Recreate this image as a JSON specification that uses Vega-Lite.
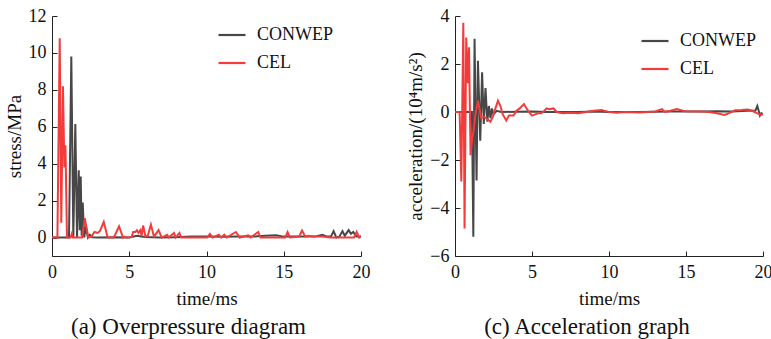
{
  "$schema": "https://vega.github.io/schema/vega-lite/v6.json",
  "background": "white",
  "padding": {"left": 5, "top": 7, "right": 0, "bottom": 3},
  "spacing": 36,
  "config": {
    "view": {"stroke": null}
  },
  "resolve": {"scale": {"color": "independent", "x": "independent", "y": "independent"}, "legend": {"color": "independent"}},
  "datasets": {
    "stress": [
      {"s": "CONWEP", "t": 0, "v": 0}, {"s": "CONWEP", "t": 1.1, "v": 0}, {"s": "CONWEP", "t": 1.25, "v": 9.8}, {"s": "CONWEP", "t": 1.38, "v": 0}, {"s": "CONWEP", "t": 1.51, "v": 6.15}, {"s": "CONWEP", "t": 1.62, "v": 0}, {"s": "CONWEP", "t": 1.73, "v": 3.65}, {"s": "CONWEP", "t": 1.8, "v": 0.4}, {"s": "CONWEP", "t": 1.86, "v": 3.3}, {"s": "CONWEP", "t": 1.92, "v": 0.1}, {"s": "CONWEP", "t": 1.99, "v": 1.9}, {"s": "CONWEP", "t": 2.08, "v": 0}, {"s": "CONWEP", "t": 2.2, "v": 0.6}, {"s": "CONWEP", "t": 2.32, "v": 0}, {"s": "CONWEP", "t": 2.45, "v": 0.15}, {"s": "CONWEP", "t": 2.6, "v": 0.02}, {"s": "CONWEP", "t": 3.0, "v": 0}, {"s": "CONWEP", "t": 4.0, "v": 0.02}, {"s": "CONWEP", "t": 5.0, "v": 0}, {"s": "CONWEP", "t": 5.5, "v": 0.1}, {"s": "CONWEP", "t": 6.0, "v": 0.03}, {"s": "CONWEP", "t": 7.0, "v": 0}, {"s": "CONWEP", "t": 8.0, "v": 0.02}, {"s": "CONWEP", "t": 9.0, "v": 0.05}, {"s": "CONWEP", "t": 10.0, "v": 0.05}, {"s": "CONWEP", "t": 11.0, "v": 0.04}, {"s": "CONWEP", "t": 12.0, "v": 0.05}, {"s": "CONWEP", "t": 13.0, "v": 0.05}, {"s": "CONWEP", "t": 13.8, "v": 0.1}, {"s": "CONWEP", "t": 14.5, "v": 0.12}, {"s": "CONWEP", "t": 15.0, "v": 0.05}, {"s": "CONWEP", "t": 16.0, "v": 0.05}, {"s": "CONWEP", "t": 17.0, "v": 0.05}, {"s": "CONWEP", "t": 17.5, "v": 0.15}, {"s": "CONWEP", "t": 17.8, "v": 0.05}, {"s": "CONWEP", "t": 18.05, "v": 0.05}, {"s": "CONWEP", "t": 18.23, "v": 0.35}, {"s": "CONWEP", "t": 18.4, "v": 0}, {"s": "CONWEP", "t": 18.6, "v": 0.05}, {"s": "CONWEP", "t": 18.8, "v": 0.35}, {"s": "CONWEP", "t": 18.95, "v": 0.1}, {"s": "CONWEP", "t": 19.2, "v": 0.4}, {"s": "CONWEP", "t": 19.35, "v": 0.2}, {"s": "CONWEP", "t": 19.5, "v": 0.3}, {"s": "CONWEP", "t": 19.7, "v": 0.05}, {"s": "CONWEP", "t": 20, "v": 0.05},
      {"s": "CEL", "t": 0, "v": 0}, {"s": "CEL", "t": 0.35, "v": 0}, {"s": "CEL", "t": 0.5, "v": 10.8}, {"s": "CEL", "t": 0.6, "v": 0.8}, {"s": "CEL", "t": 0.71, "v": 8.2}, {"s": "CEL", "t": 0.8, "v": 3.8}, {"s": "CEL", "t": 0.87, "v": 5.0}, {"s": "CEL", "t": 0.97, "v": 0}, {"s": "CEL", "t": 1.2, "v": 0}, {"s": "CEL", "t": 1.28, "v": 0.2}, {"s": "CEL", "t": 1.35, "v": 0}, {"s": "CEL", "t": 1.95, "v": 0}, {"s": "CEL", "t": 2.12, "v": 1.05}, {"s": "CEL", "t": 2.35, "v": 0}, {"s": "CEL", "t": 2.55, "v": 0.05}, {"s": "CEL", "t": 2.75, "v": 0.3}, {"s": "CEL", "t": 2.95, "v": 0.25}, {"s": "CEL", "t": 3.1, "v": 0.35}, {"s": "CEL", "t": 3.35, "v": 0.85}, {"s": "CEL", "t": 3.6, "v": 0}, {"s": "CEL", "t": 4.0, "v": 0}, {"s": "CEL", "t": 4.34, "v": 0.6}, {"s": "CEL", "t": 4.6, "v": 0}, {"s": "CEL", "t": 4.7, "v": 0.05}, {"s": "CEL", "t": 4.8, "v": 0}, {"s": "CEL", "t": 5.15, "v": 0.02}, {"s": "CEL", "t": 5.25, "v": 0.3}, {"s": "CEL", "t": 5.4, "v": 0.3}, {"s": "CEL", "t": 5.5, "v": 0.4}, {"s": "CEL", "t": 5.6, "v": 0.25}, {"s": "CEL", "t": 5.72, "v": 0.4}, {"s": "CEL", "t": 5.8, "v": 0.1}, {"s": "CEL", "t": 5.9, "v": 0.65}, {"s": "CEL", "t": 6.05, "v": 0.05}, {"s": "CEL", "t": 6.2, "v": 0.1}, {"s": "CEL", "t": 6.4, "v": 0.7}, {"s": "CEL", "t": 6.6, "v": 0.05}, {"s": "CEL", "t": 6.9, "v": 0.4}, {"s": "CEL", "t": 7.1, "v": 0}, {"s": "CEL", "t": 7.45, "v": 0.15}, {"s": "CEL", "t": 7.55, "v": 0}, {"s": "CEL", "t": 7.9, "v": 0.25}, {"s": "CEL", "t": 8.0, "v": 0}, {"s": "CEL", "t": 8.25, "v": 0.25}, {"s": "CEL", "t": 8.35, "v": 0}, {"s": "CEL", "t": 10.05, "v": 0}, {"s": "CEL", "t": 10.22, "v": 0.2}, {"s": "CEL", "t": 10.4, "v": 0}, {"s": "CEL", "t": 10.8, "v": 0.15}, {"s": "CEL", "t": 10.95, "v": 0}, {"s": "CEL", "t": 11.15, "v": 0.15}, {"s": "CEL", "t": 11.3, "v": 0}, {"s": "CEL", "t": 11.9, "v": 0.3}, {"s": "CEL", "t": 12.15, "v": 0}, {"s": "CEL", "t": 12.7, "v": 0.12}, {"s": "CEL", "t": 12.85, "v": 0}, {"s": "CEL", "t": 13.35, "v": 0.3}, {"s": "CEL", "t": 13.5, "v": 0}, {"s": "CEL", "t": 15.1, "v": 0}, {"s": "CEL", "t": 15.25, "v": 0.3}, {"s": "CEL", "t": 15.4, "v": 0}, {"s": "CEL", "t": 16.0, "v": 0.05}, {"s": "CEL", "t": 16.18, "v": 0.38}, {"s": "CEL", "t": 16.4, "v": 0.05}, {"s": "CEL", "t": 16.6, "v": 0.1}, {"s": "CEL", "t": 17.0, "v": 0.05}, {"s": "CEL", "t": 17.5, "v": 0.05}, {"s": "CEL", "t": 18.0, "v": 0}, {"s": "CEL", "t": 19.55, "v": 0}, {"s": "CEL", "t": 19.72, "v": 0.3}, {"s": "CEL", "t": 19.88, "v": 0}, {"s": "CEL", "t": 20, "v": 0.05}
    ],
    "accel": [
      {"s": "CONWEP", "t": 0, "v": 0}, {"s": "CONWEP", "t": 1.1, "v": 0}, {"s": "CONWEP", "t": 1.19, "v": -5.2}, {"s": "CONWEP", "t": 1.27, "v": 3.05}, {"s": "CONWEP", "t": 1.4, "v": -2.85}, {"s": "CONWEP", "t": 1.49, "v": 2.13}, {"s": "CONWEP", "t": 1.64, "v": -1.2}, {"s": "CONWEP", "t": 1.76, "v": 1.65}, {"s": "CONWEP", "t": 1.87, "v": -0.5}, {"s": "CONWEP", "t": 1.98, "v": 1.0}, {"s": "CONWEP", "t": 2.1, "v": -0.4}, {"s": "CONWEP", "t": 2.2, "v": 0.25}, {"s": "CONWEP", "t": 2.3, "v": -0.25}, {"s": "CONWEP", "t": 2.4, "v": 0.15}, {"s": "CONWEP", "t": 2.5, "v": -0.1}, {"s": "CONWEP", "t": 2.7, "v": 0.05}, {"s": "CONWEP", "t": 3.0, "v": 0}, {"s": "CONWEP", "t": 4, "v": 0.01}, {"s": "CONWEP", "t": 5, "v": 0.02}, {"s": "CONWEP", "t": 6, "v": 0}, {"s": "CONWEP", "t": 7, "v": 0}, {"s": "CONWEP", "t": 8, "v": 0}, {"s": "CONWEP", "t": 9, "v": 0.02}, {"s": "CONWEP", "t": 10, "v": 0}, {"s": "CONWEP", "t": 12, "v": 0}, {"s": "CONWEP", "t": 14, "v": 0.02}, {"s": "CONWEP", "t": 16, "v": 0.02}, {"s": "CONWEP", "t": 17, "v": 0.03}, {"s": "CONWEP", "t": 18, "v": 0.02}, {"s": "CONWEP", "t": 19, "v": 0.05}, {"s": "CONWEP", "t": 19.5, "v": 0.05}, {"s": "CONWEP", "t": 19.63, "v": 0.25}, {"s": "CONWEP", "t": 19.72, "v": 0.05}, {"s": "CONWEP", "t": 19.8, "v": -0.15}, {"s": "CONWEP", "t": 19.9, "v": -0.05}, {"s": "CONWEP", "t": 20, "v": -0.1},
      {"s": "CEL", "t": 0, "v": 0}, {"s": "CEL", "t": 0.3, "v": 0}, {"s": "CEL", "t": 0.41, "v": -2.9}, {"s": "CEL", "t": 0.54, "v": 3.72}, {"s": "CEL", "t": 0.62, "v": -4.85}, {"s": "CEL", "t": 0.73, "v": 3.1}, {"s": "CEL", "t": 0.84, "v": 1.2}, {"s": "CEL", "t": 0.91, "v": 2.7}, {"s": "CEL", "t": 1.01, "v": -1.8}, {"s": "CEL", "t": 1.1, "v": -1.2}, {"s": "CEL", "t": 1.2, "v": -0.8}, {"s": "CEL", "t": 1.3, "v": -0.2}, {"s": "CEL", "t": 1.49, "v": 0.47}, {"s": "CEL", "t": 1.6, "v": 0.1}, {"s": "CEL", "t": 1.7, "v": -0.25}, {"s": "CEL", "t": 1.9, "v": -0.2}, {"s": "CEL", "t": 2.1, "v": -0.3}, {"s": "CEL", "t": 2.3, "v": -0.4}, {"s": "CEL", "t": 2.45, "v": -0.2}, {"s": "CEL", "t": 2.6, "v": 0.1}, {"s": "CEL", "t": 2.79, "v": 0.47}, {"s": "CEL", "t": 2.95, "v": 0.25}, {"s": "CEL", "t": 3.1, "v": -0.1}, {"s": "CEL", "t": 3.33, "v": -0.35}, {"s": "CEL", "t": 3.5, "v": -0.15}, {"s": "CEL", "t": 3.8, "v": -0.15}, {"s": "CEL", "t": 4.0, "v": 0.05}, {"s": "CEL", "t": 4.2, "v": 0.15}, {"s": "CEL", "t": 4.48, "v": 0.33}, {"s": "CEL", "t": 4.6, "v": 0.2}, {"s": "CEL", "t": 4.8, "v": 0}, {"s": "CEL", "t": 5.0, "v": -0.15}, {"s": "CEL", "t": 5.2, "v": -0.1}, {"s": "CEL", "t": 5.4, "v": -0.05}, {"s": "CEL", "t": 5.6, "v": -0.05}, {"s": "CEL", "t": 5.8, "v": 0.05}, {"s": "CEL", "t": 5.95, "v": 0.15}, {"s": "CEL", "t": 6.1, "v": 0.12}, {"s": "CEL", "t": 6.4, "v": 0.15}, {"s": "CEL", "t": 6.6, "v": 0.0}, {"s": "CEL", "t": 7.0, "v": -0.05}, {"s": "CEL", "t": 7.5, "v": -0.03}, {"s": "CEL", "t": 8.0, "v": -0.05}, {"s": "CEL", "t": 8.5, "v": 0.0}, {"s": "CEL", "t": 9.0, "v": 0.05}, {"s": "CEL", "t": 9.5, "v": 0.08}, {"s": "CEL", "t": 10, "v": 0}, {"s": "CEL", "t": 10.5, "v": -0.03}, {"s": "CEL", "t": 11, "v": 0}, {"s": "CEL", "t": 12, "v": -0.02}, {"s": "CEL", "t": 13, "v": 0.02}, {"s": "CEL", "t": 13.45, "v": 0.12}, {"s": "CEL", "t": 13.6, "v": 0.0}, {"s": "CEL", "t": 14, "v": 0.05}, {"s": "CEL", "t": 14.4, "v": 0.12}, {"s": "CEL", "t": 14.8, "v": 0.05}, {"s": "CEL", "t": 15, "v": 0.03}, {"s": "CEL", "t": 16, "v": 0.02}, {"s": "CEL", "t": 16.5, "v": 0.0}, {"s": "CEL", "t": 17, "v": -0.05}, {"s": "CEL", "t": 17.5, "v": -0.12}, {"s": "CEL", "t": 17.8, "v": -0.05}, {"s": "CEL", "t": 18.2, "v": 0.07}, {"s": "CEL", "t": 18.6, "v": 0.08}, {"s": "CEL", "t": 19, "v": 0.1}, {"s": "CEL", "t": 19.3, "v": 0.05}, {"s": "CEL", "t": 19.6, "v": -0.05}, {"s": "CEL", "t": 19.8, "v": -0.1}, {"s": "CEL", "t": 20, "v": -0.1}
    ]
  },
  "hconcat": [
    {
      "width": 309,
      "height": 240,
      "title": {"text": "(a) Overpressure diagram", "orient": "bottom", "fontSize": 23, "font": "Liberation Serif", "fontWeight": "normal", "color": "#111111", "dx": -18, "offset": 8},
      "data": {"name": "stress"},
      "encoding": {
        "x": {"field": "t", "type": "quantitative", "scale": {"domain": [0, 20], "nice": false},
              "axis": {"values": [0, 5, 10, 15, 20], "title": "time/ms", "grid": false, "domainColor": "#222222", "tickColor": "#222222", "tickSize": -5, "labelPadding": 12, "labelFlush": false, "labelFont": "Liberation Serif", "labelFontSize": 18, "labelColor": "#111111", "titleFont": "Liberation Serif", "titleFontSize": 19, "titleFontWeight": 400, "titleColor": "#111111", "titlePadding": 8}},
        "y": {"field": "v", "type": "quantitative", "scale": {"domain": [-1, 12], "nice": false, "zero": false},
              "axis": {"values": [0, 2, 4, 6, 8, 10, 12], "title": "stress/MPa", "grid": false, "domainColor": "#222222", "tickColor": "#222222", "tickSize": -5, "labelPadding": 11, "labelFont": "Liberation Serif", "labelFontSize": 18, "labelColor": "#111111", "titleFont": "Liberation Serif", "titleFontSize": 19, "titleFontWeight": 400, "titleColor": "#111111", "titlePadding": 4}},
        "color": {"field": "s", "type": "nominal", "scale": {"domain": ["CONWEP", "CEL"], "range": ["#474747", "#f23c3c"]},
                  "legend": {"orient": "none", "legendX": 165, "legendY": 4, "title": null, "symbolType": "stroke", "symbolSize": 729, "symbolStrokeWidth": 2.2, "labelFont": "Liberation Serif", "labelFontSize": 18, "labelColor": "#111111", "labelOffset": 10, "rowPadding": 4, "padding": 0}}
      },
      "layer": [
        {"transform": [{"filter": "datum.s === 'CONWEP'"}], "mark": {"type": "line", "strokeWidth": 2, "clip": true}},
        {"transform": [{"filter": "datum.s === 'CEL'"}], "mark": {"type": "line", "strokeWidth": 2, "clip": true}}
      ]
    },
    {
      "width": 308,
      "height": 240,
      "title": {"text": "(c) Acceleration graph", "orient": "bottom", "fontSize": 23, "font": "Liberation Serif", "fontWeight": "normal", "color": "#111111", "dx": -22, "offset": 8},
      "data": {"name": "accel"},
      "encoding": {
        "x": {"field": "t", "type": "quantitative", "scale": {"domain": [0, 20], "nice": false},
              "axis": {"values": [0, 5, 10, 15, 20], "title": "time/ms", "grid": false, "domainColor": "#222222", "tickColor": "#222222", "tickSize": -5, "labelPadding": 12, "labelFlush": false, "labelFont": "Liberation Serif", "labelFontSize": 18, "labelColor": "#111111", "titleFont": "Liberation Serif", "titleFontSize": 19, "titleFontWeight": 400, "titleColor": "#111111", "titlePadding": 8}},
        "y": {"field": "v", "type": "quantitative", "scale": {"domain": [-6, 4], "nice": false, "zero": false},
              "axis": {"values": [-6, -4, -2, 0, 2, 4], "title": "acceleration/(10⁴m/s²)", "grid": false, "domainColor": "#222222", "tickColor": "#222222", "tickSize": -5, "labelPadding": 11, "labelFont": "Liberation Serif", "labelFontSize": 18, "labelColor": "#111111", "titleFont": "Liberation Serif", "titleFontSize": 19, "titleFontWeight": 400, "titleColor": "#111111", "titlePadding": 4}},
        "color": {"field": "s", "type": "nominal", "scale": {"domain": ["CONWEP", "CEL"], "range": ["#474747", "#f23c3c"]},
                  "legend": {"orient": "none", "legendX": 185, "legendY": 10, "title": null, "symbolType": "stroke", "symbolSize": 729, "symbolStrokeWidth": 2.2, "labelFont": "Liberation Serif", "labelFontSize": 18, "labelColor": "#111111", "labelOffset": 10, "rowPadding": 4, "padding": 0}}
      },
      "layer": [
        {"transform": [{"filter": "datum.s === 'CONWEP'"}], "mark": {"type": "line", "strokeWidth": 2, "clip": true}},
        {"transform": [{"filter": "datum.s === 'CEL'"}], "mark": {"type": "line", "strokeWidth": 2, "clip": true}}
      ]
    }
  ]
}
